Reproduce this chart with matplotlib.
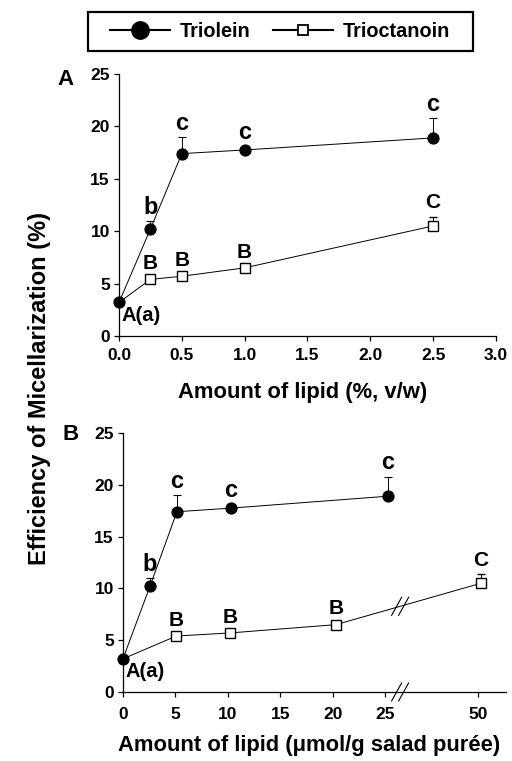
import numpy as np
import matplotlib.pyplot as plt
from matplotlib.lines import Line2D
from matplotlib.patches import Rectangle

plt.rcParams['font.family'] = ['Liberation Sans', 'DejaVu Sans']
plt.rcParams['font.weight'] = 'bold'

# panel A: lipid in %, v/w
pct = [0, 0.25, 0.5, 1.0, 2.5]
# panel B: lipid in umol/g salad puree
olein_umol = [0, 2.57, 5.14, 10.3, 25.7]
octan_umol = [0, 5.08, 10.2, 20.3, 50.8]

olein = [3.2, 10.2, 17.4, 17.75, 18.9]
olein_err = [0, 0.8, 1.6, 0.4, 1.9]
octan = [3.2, 5.4, 5.7, 6.5, 10.5]
octan_err = [0, 0.2, 0.2, 0.2, 0.9]

olein_lbl = ['', 'b', 'c', 'c', 'c']
octan_lbl = ['', 'B', 'B', 'B', 'C']

# broken x axis for panel B (25 -> 50 compressed)
brk = 25.0
k = 0.354
def fwd(x):
    x = np.asarray(x, dtype=float)
    return np.where(x <= brk, x, brk + (x - brk) * k)
def inv(p):
    p = np.asarray(p, dtype=float)
    return np.where(p <= brk, p, brk + (p - brk) / k)

fig = plt.figure(figsize=(5.12, 7.61), dpi=100)
axA = fig.add_axes([0.2324, 0.5585, 0.7363, 0.3443])
axB = fig.add_axes([0.2402, 0.0907, 0.748, 0.3403])

def draw(ax, xo, xc):
    # control point (x=0) shared by both series: only the circle shows
    ax.errorbar(xc, octan, yerr=[np.zeros(5), octan_err], fmt='s-', color='black',
                mfc='white', mec='black', ms=7.5, mew=1.0, lw=0.7, markevery=slice(1, None),
                capsize=3, elinewidth=0.7, capthick=0.8, zorder=3, clip_on=False)
    ax.errorbar(xo, olein, yerr=[np.zeros(5), olein_err], fmt='o-', color='black',
                ms=7.8, lw=0.7, capsize=3, elinewidth=0.7, capthick=0.8, zorder=4,
                clip_on=False)
    for x, y, e, t in zip(xo, olein, olein_err, olein_lbl):
        if t:
            ax.annotate(t, (x, y + e), xytext=(0, 1.5), textcoords='offset points',
                        ha='center', va='bottom', fontsize=17, fontweight='bold')
    for x, y, e, t in zip(xc, octan, octan_err, octan_lbl):
        if t:
            ax.annotate(t, (x, y + e), xytext=(0, 3), textcoords='offset points',
                        ha='center', va='bottom', fontsize=15, fontweight='bold')
    ax.annotate('A(a)', (xo[0], olein[0]), xytext=(1.5, -2.5), textcoords='offset points',
                ha='left', va='top', fontsize=14.5, fontweight='bold')
    ax.set_ylim(0, 25)
    ax.set_yticks([0, 5, 10, 15, 20, 25])
    for s in ['top', 'right']:
        ax.spines[s].set_visible(False)
    ax.spines['left'].set_linewidth(0.9)
    ax.spines['bottom'].set_linewidth(0.9)
    ax.tick_params(direction='out', length=3.6, width=0.9, labelsize=12.5)
    ax.tick_params(axis='y', pad=3)
    for lab in ax.get_yticklabels():
        lab.set_fontweight('bold')

draw(axA, pct, pct)
axA.set_xlim(0, 3.0)
axA.set_xticks([0, 0.5, 1.0, 1.5, 2.0, 2.5, 3.0])
axA.set_xticklabels(['0.0', '0.5', '1.0', '1.5', '2.0', '2.5', '3.0'], fontweight='bold')
axA.tick_params(axis='x', pad=5)
axA.set_xlabel('Amount of lipid (%, v/w)', fontsize=15.8, fontweight='bold', va='center')
axA.xaxis.set_label_coords(0.488, -0.2176)

axB.set_xscale('function', functions=(fwd, inv))
draw(axB, olein_umol, octan_umol)
axB.set_xlim(0, 57.5)
axB.set_xticks([0, 5, 10, 15, 20, 25, 50])
axB.set_xticklabels(['0', '5', '10', '15', '20', '25', '50'], fontweight='bold')
axB.tick_params(axis='x', pad=7)
axB.set_xlabel('Amount of lipid (\u03bcmol/g salad pur\u00e9e)', fontsize=15.8,
               fontweight='bold', va='center')
axB.xaxis.set_label_coords(0.486, -0.2085)

# break marks on the axis and on the trioctanoin line
xb = 29.0
pos_c = fwd(octan_umol)
yb = np.interp(float(fwd(xb)), pos_c, octan)
tr = axB.transData
inv_fig = fig.transFigure.inverted()
for dx in (-3.5, 3.5):
    for (bx, by) in [(xb, 0), (xb, yb)]:
        px, py = tr.transform((bx, by))
        p1 = inv_fig.transform((px + dx - 5, py - 9))
        p2 = inv_fig.transform((px + dx + 5, py + 9))
        fig.add_artist(Line2D([p1[0], p2[0]], [p1[1], p2[1]], color='black', lw=0.8))

fig.text(0.113, 0.895, 'A', fontsize=16, fontweight='bold', ha='left', va='center')
fig.text(0.123, 0.4285, 'B', fontsize=16, fontweight='bold', ha='left', va='center')
fig.text(0.078, 0.4895, 'Efficiency of Micellarization (%)', rotation=90, fontsize=17,
         fontweight='bold', ha='center', va='center')

# legend
h1 = Line2D([], [], color='black', marker='o', ms=12.5, lw=1.5)
h2 = Line2D([], [], color='black', marker='s', mfc='white', ms=7.7, lw=1.5, mew=1.3)
leg = fig.legend([h1, h2], ['Triolein', 'Trioctanoin'], loc='center',
                 bbox_to_anchor=(0.547, 0.9586), ncol=2, frameon=False,
                 handlelength=3.0, handletextpad=0.5, columnspacing=1.15,
                 borderpad=0, prop={'weight': 'bold', 'size': 14.3})
fig.add_artist(Rectangle((88 / 512, 1 - 51 / 761), 385 / 512, 39 / 761,
                         transform=fig.transFigure, fill=False, ec='black', lw=1.6))

fig.savefig('out.png', dpi=100)
